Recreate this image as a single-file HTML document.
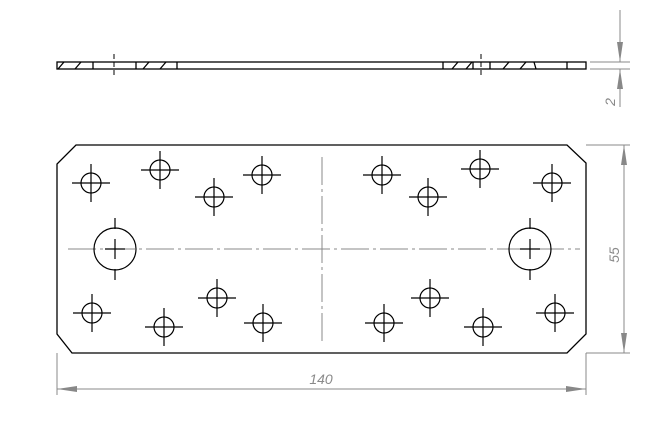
<!DOCTYPE html>
<html><head><meta charset="utf-8"><style>html,body{margin:0;padding:0;background:#fff}svg{display:block}</style></head>
<body>
<svg width="666" height="431" viewBox="0 0 666 431" xmlns="http://www.w3.org/2000/svg">
<defs>
<marker id="a" viewBox="0 0 20 6" refX="20" refY="3" markerWidth="20" markerHeight="6" markerUnits="userSpaceOnUse" orient="auto"><path d="M0,0 L20,3 L0,6 Z" fill="#888"/></marker>
<g id="h" stroke="#000" stroke-width="1.2" fill="none"><circle r="10" cx="0" cy="0"/><path d="M-19,0 H19 M0,-19 V19"/></g>
</defs>
<g stroke="#000" stroke-width="1.3" fill="none">
<rect x="57" y="62" width="529" height="7"/>
<line x1="93" y1="62" x2="93" y2="69"/><line x1="136" y1="62" x2="136" y2="69"/><line x1="177" y1="62" x2="177" y2="69"/>
<line x1="443" y1="62" x2="443" y2="69"/><line x1="473" y1="62" x2="473" y2="69"/><line x1="490" y1="62" x2="490" y2="69"/><line x1="567" y1="62" x2="567" y2="69"/>
<path d="M58,69 L64,62 M75,69 L81,62 M143,69 L149,62 M160,69 L166,62 M452,69 L458,62 M466,69 L472,62 M503,69 L509,62 M520,69 L526,62 M534,62 L536,69"/>
<path d="M76,145 L567,145 L586,163 L586,334 L567,353 L72,353 L57,334 L57,164 Z"/>
</g>
<g stroke="#000" stroke-width="1" fill="none">
<line x1="114" y1="54" x2="114" y2="77" stroke-dasharray="5,3"/>
<line x1="481" y1="54" x2="481" y2="77" stroke-dasharray="5,3"/>
</g>
<g stroke="#888" stroke-width="1" fill="none">
<line x1="68" y1="249" x2="580" y2="249" stroke-dasharray="28,4,3,4"/>
<line x1="322" y1="157" x2="322" y2="343" stroke-dasharray="28,4,3,4"/>
</g>
<use href="#h" x="91" y="183"/><use href="#h" x="160" y="170"/><use href="#h" x="214" y="197"/><use href="#h" x="262" y="175"/>
<use href="#h" x="382" y="175"/><use href="#h" x="428" y="197"/><use href="#h" x="480" y="169"/><use href="#h" x="552" y="183"/>
<use href="#h" x="92" y="313"/><use href="#h" x="164" y="327"/><use href="#h" x="217" y="298"/><use href="#h" x="263" y="323"/>
<use href="#h" x="384" y="323"/><use href="#h" x="430" y="298"/><use href="#h" x="483" y="327"/><use href="#h" x="555" y="313"/>
<g stroke="#000" stroke-width="1.2" fill="none">
<circle cx="115" cy="249" r="21"/><path d="M115,218 V229 M115,269 V280 M115,239 V259 M105,249 H125"/>
<circle cx="530" cy="249" r="21"/><path d="M530,218 V229 M530,269 V280 M530,239 V259 M520,249 H540"/>
</g>
<g stroke="#888" stroke-width="1" fill="none">
<line x1="590" y1="62" x2="630" y2="62"/><line x1="590" y1="69" x2="630" y2="69"/>
<line x1="620" y1="10" x2="620" y2="62" marker-end="url(#a)"/>
<line x1="620" y1="107" x2="620" y2="69" marker-end="url(#a)"/>
<line x1="586" y1="145" x2="630" y2="145"/><line x1="586" y1="353" x2="630" y2="353"/>
<line x1="624" y1="200" x2="624" y2="145" marker-end="url(#a)"/>
<line x1="624" y1="300" x2="624" y2="353" marker-end="url(#a)"/>
<line x1="624" y1="199" x2="624" y2="301"/>
<line x1="57" y1="353" x2="57" y2="395"/><line x1="586" y1="353" x2="586" y2="395"/>
<line x1="320" y1="389" x2="57" y2="389" marker-end="url(#a)"/>
<line x1="320" y1="389" x2="586" y2="389" marker-end="url(#a)"/>
</g>
<g fill="#8a8a8a" font-family="Liberation Sans, sans-serif" font-style="italic" font-size="14">
<text x="321" y="384" text-anchor="middle">140</text>
<text transform="translate(619,255) rotate(-90)" text-anchor="middle">55</text>
<text transform="translate(615,102) rotate(-90)" text-anchor="middle">2</text>
</g>
</svg>
</body></html>
